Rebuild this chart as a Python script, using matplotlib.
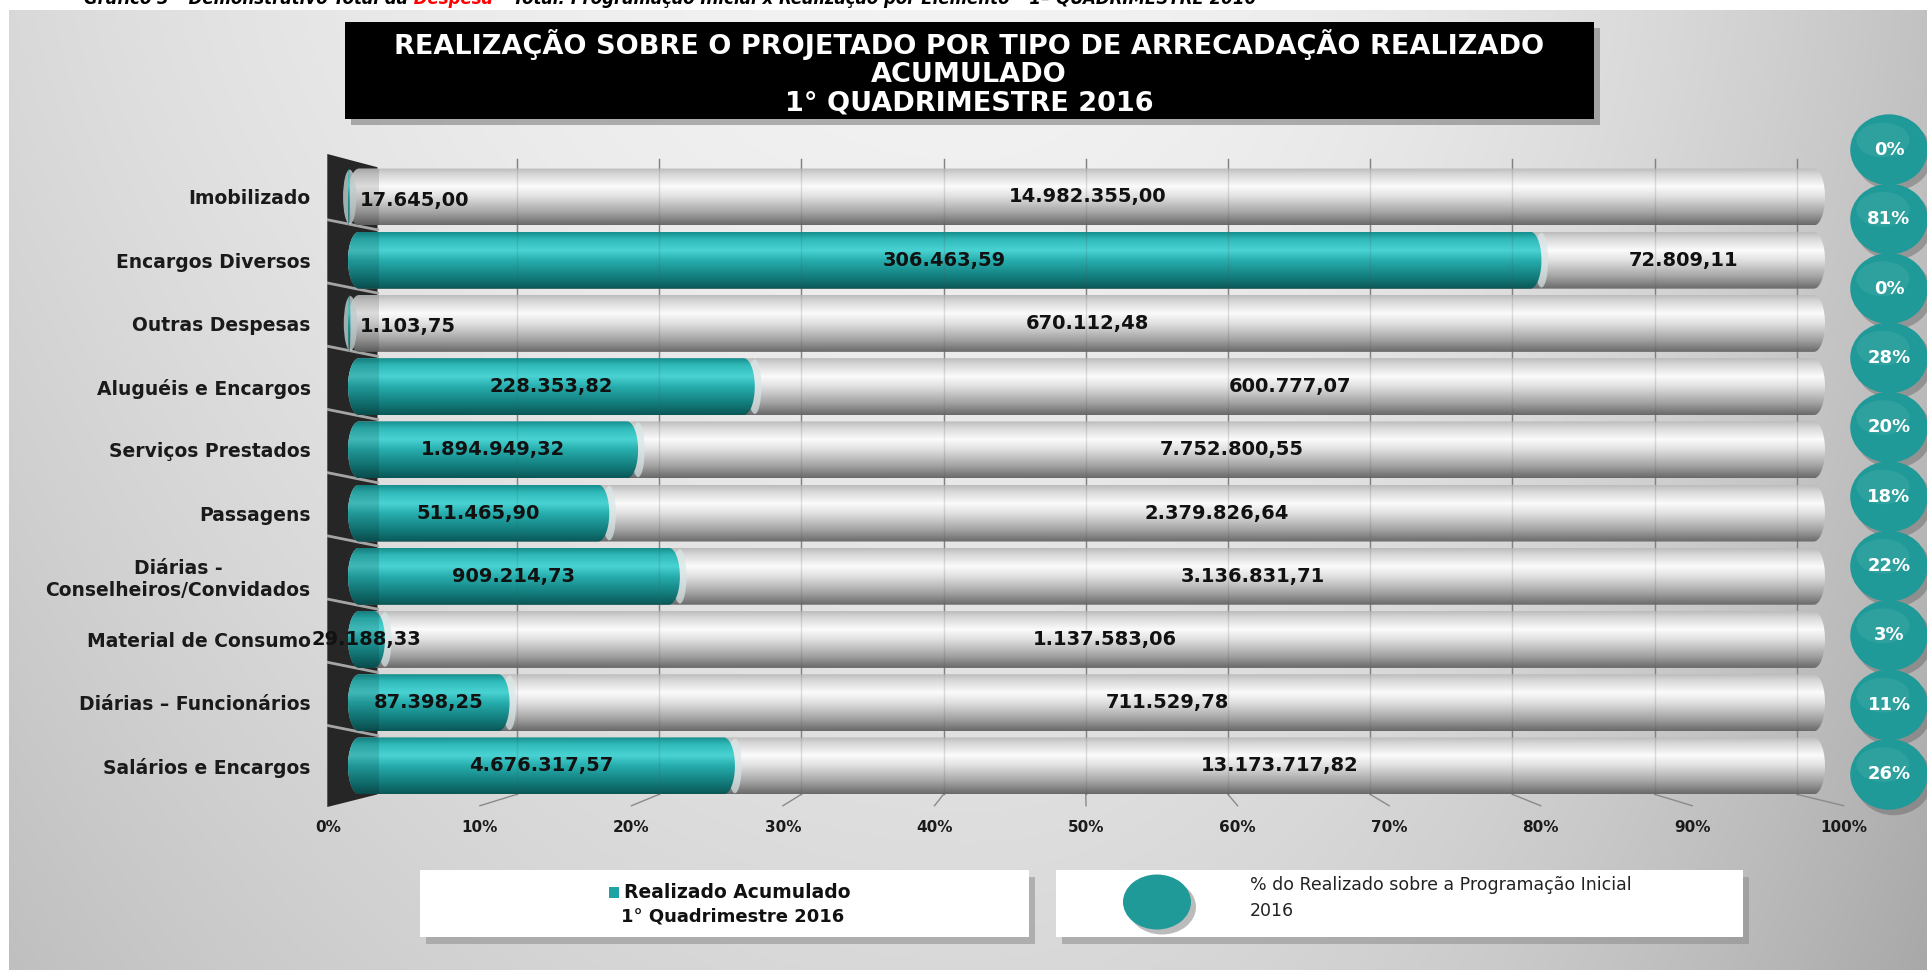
import numpy as np
import matplotlib
matplotlib.use('Agg')
import matplotlib.pyplot as plt
from matplotlib.colors import LinearSegmentedColormap
from matplotlib.patches import Rectangle, Ellipse, Polygon

plt.rcParams['font.family'] = ['DejaVu Sans']

# data
categories = ["Imobilizado", "Encargos Diversos", "Outras Despesas",
              "Aluguéis e Encargos", "Serviços Prestados", "Passagens",
              "Diárias -\nConselheiros/Convidados", "Material de Consumo",
              "Diárias – Funcionários", "Salários e Encargos"]
realizado = [17645.00, 306463.59, 1103.75, 228353.82, 1894949.32,
             511465.90, 909214.73, 29188.33, 87398.25, 4676317.57]
a_realizar = [14982355.00, 72809.11, 670112.48, 600777.07, 7752800.55,
              2379826.64, 3136831.71, 1137583.06, 711529.78, 13173717.82]
ticks = list(range(0, 101, 10))

title_lines = ["REALIZAÇÃO SOBRE O PROJETADO POR TIPO DE ARRECADAÇÃO REALIZADO",
               "ACUMULADO", "1° QUADRIMESTRE 2016"]

TEAL = '#1f9a98'
H = 0.9                      # bar thickness (rows)
PX0, PK = -1.33, 1.026       # front floor (tick labels) perspective
GX0, GK = 1.8, 0.963         # back wall gridlines perspective


def brl(v):
    return f"{v:,.2f}".replace(",", "X").replace(".", ",").replace("X", ".")


gray_cmap = LinearSegmentedColormap.from_list('g', [
    (0, '#bdbdbd'), (0.1, '#d6d6d6'), (0.32, '#fbfbfb'), (0.5, '#e0e0e0'),
    (0.78, '#a5a5a5'), (1, '#6a6a6a')])
teal_cmap = LinearSegmentedColormap.from_list('t', [
    (0, '#17908f'), (0.12, '#2fb9b8'), (0.32, '#4ad3d3'), (0.5, '#27adad'),
    (0.78, '#147f7f'), (1, '#0b5757')])
grad = np.linspace(0, 1, 100).reshape(-1, 1)


def cylinder(ax, x0, x1, yc, cmap, z):
    rx = min(0.75, (x1 - x0) / 2)
    t = np.linspace(-np.pi / 2, np.pi / 2, 25)
    right = np.column_stack([x1 - rx + rx * np.cos(t), yc + H / 2 * np.sin(t)])
    left = np.column_stack([x0 + rx - rx * np.cos(t), yc - H / 2 * np.sin(t)])
    clip = Polygon(np.vstack([right, left]), closed=True, fc='none', ec='none')
    ax.add_patch(clip)
    im = ax.imshow(grad, cmap=cmap, extent=(x0, x1, yc + H / 2, yc - H / 2),
                   aspect='auto', zorder=z, interpolation='bilinear')
    im.set_clip_path(clip)
    return clip


fig = plt.figure(figsize=(19.27, 9.73), dpi=100)

# background panel
bg = fig.add_axes([0, 0, 1, 1])
X, Y = np.meshgrid(np.linspace(0, 1, 400), np.linspace(0, 1, 200))
dx = (X - 0.5) / 0.5
L = 0.95 - np.where(dx < 0, 0.10 * dx ** 2, 0.19 * dx ** 2) - 0.10 * Y ** 1.3
bg.imshow(np.dstack([L, L, L]).clip(0, 1), extent=(9, 1927, 970, 10),
          aspect='auto', interpolation='bilinear', zorder=0)
bg.set_xlim(0, 1927)
bg.set_ylim(973, 0)
bg.axis('off')

# header line, cut by the top edge as in the source
hdr = dict(fontsize=12, fontweight='bold', style='italic')
t1 = bg.text(408, 4, "Gráfico 3 – Demonstrativo Total da", va='baseline',
             ha='right', color='black', **hdr)
t2 = bg.annotate(" Despesa", xy=(1, 0), xycoords=t1, va='bottom', ha='left',
                 color='red', **hdr)
bg.annotate(" – Total: Programação Inicial x Realização por Elemento – 1º QUADRIMESTRE 2016",
            xy=(1, 0), xycoords=t2, va='bottom', ha='left', color='black', **hdr)

# title box
bg.add_patch(Rectangle((351, 28), 1249, 97, fc='#6a6a6a', alpha=0.5, zorder=1))
bg.add_patch(Rectangle((345, 22), 1249, 97, fc='black', zorder=2))
for line, yy in zip(title_lines, [45, 75, 103]):
    bg.text(969, yy, line, ha='center', va='center', color='white',
            fontsize=19.5, fontweight='bold', zorder=3)

# main chart
ax = fig.add_axes([327.3 / 1927, (973 - 807) / 973, 1518.4 / 1927, 653 / 973])
ax.patch.set_alpha(0)
for s in ax.spines.values():
    s.set_visible(False)

# left wall and floor lines
ax.add_patch(Polygon([(-1.4, -0.68), (2.0, -0.47), (2.0, 9.45), (-1.4, 9.65)],
                     fc='#262626', ec='none', zorder=1))
for k in range(len(categories) - 1):
    ax.plot([-1.4, 2.0], [k + 0.36, k + 0.52], color='#a5a5a5', lw=2, zorder=1.2)

# back gridlines and floor lines to tick labels
for t in ticks[1:]:
    gx = GX0 + GK * t
    ax.plot([gx, gx], [-0.6, 9.45], color='#8c8c8c', lw=1, zorder=1.5)
    ax.plot([gx, gx], [-0.6, 9.45], color='#555555', lw=1, alpha=0.18, zorder=4)
    ax.plot([gx, PX0 + PK * t], [9.45, 9.63], color='#8a8a8a', lw=1, zorder=1.5)

for i, (r, p) in enumerate(zip(realizado, a_realizar)):
    pr = 100 * r / (r + p)
    full = cylinder(ax, 0, 100, i, gray_cmap, 2)
    ax.add_patch(Ellipse((pr, i), 0.9, H * 0.96, fc='#d8e6e6', alpha=0.7, zorder=2.5))
    cylinder(ax, 0, pr, i, teal_cmap, 3)
    shade = Rectangle((0, i - H / 2), 2.1, H, fc='black', alpha=0.12, zorder=3.5)
    ax.add_patch(shade)
    shade.set_clip_path(full)
    if pr < 1:
        ax.text(0.8, i + 0.05, brl(r), ha='left', va='center', fontsize=14,
                fontweight='bold', color='#111111', zorder=6)
    else:
        ax.text(pr / 2, i, brl(r), ha='center', va='center', fontsize=14,
                fontweight='bold', color='#111111', zorder=6)
    ax.text((pr + 100) / 2, i, brl(p), ha='center', va='center', fontsize=14,
            fontweight='bold', color='#111111', zorder=6)

ax.set_yticks(range(len(categories)))
ax.set_yticklabels(categories, fontsize=13.5, fontweight='bold', color='#1a1a1a')
for lab in ax.get_yticklabels():
    lab.set_multialignment('center')
ax.set_xticks([PX0 + PK * t for t in ticks])
ax.set_xticklabels([f"{t}%" for t in ticks], fontsize=11, fontweight='bold',
                   color='#1a1a1a')
ax.tick_params(axis='y', length=0, pad=12)
ax.tick_params(axis='x', length=0, pad=9)
ax.set_xlim(-1.4, 101.4)
ax.set_ylim(9.65, -0.68)

# percentage circles
cax = fig.add_axes([1851 / 1927, (973 - 809) / 973, 76 / 1927, 694 / 973])
cax.set_xlim(0, 1)
cax.set_ylim(9.5, -0.5)
cax.axis('off')
for i, (r, p) in enumerate(zip(realizado, a_realizar)):
    cax.add_patch(Ellipse((0.56, i + 0.08), 1.02, 1.02, fc='#4a4a4a', alpha=0.35,
                          clip_on=False))
    cax.add_patch(Ellipse((0.5, i), 1.02, 1.02, fc=TEAL, clip_on=False))
    cax.add_patch(Ellipse((0.42, i - 0.14), 0.7, 0.5, fc='white', alpha=0.07,
                          clip_on=False))
    cax.text(0.5, i, f"{round(100 * r / (r + p))}%", ha='center', va='center',
             color='white', fontsize=13, fontweight='bold')

# legend boxes
bg.add_patch(Rectangle((426, 877), 609, 67, fc='#8c8c8c', alpha=0.55, zorder=1))
bg.add_patch(Rectangle((420, 870), 609, 67, fc='white', zorder=2))
bg.add_patch(Rectangle((609, 887), 10, 11, fc='#1fa3a3', zorder=3))
bg.text(624, 893, "Realizado Acumulado", ha='left', va='center', fontsize=13.5,
        fontweight='bold', color='#111111', zorder=3)
bg.text(733, 916, "1° Quadrimestre 2016", ha='center', va='center', fontsize=13,
        fontweight='bold', color='#111111', zorder=3)

bg.add_patch(Rectangle((1062, 877), 687, 67, fc='#8c8c8c', alpha=0.55, zorder=1))
bg.add_patch(Rectangle((1056, 870), 687, 67, fc='white', zorder=2))
bg.add_patch(Ellipse((1162, 907), 68, 55, fc='#555555', alpha=0.4, zorder=3))
bg.add_patch(Ellipse((1157, 902), 68, 55, fc=TEAL, zorder=3))
bg.text(1250, 885, "% do Realizado sobre a Programação Inicial", ha='left',
        va='center', fontsize=12.5, color='#222222', zorder=3)
bg.text(1250, 911, "2016", ha='left', va='center', fontsize=12.5,
        color='#222222', zorder=3)

fig.savefig('out.png', dpi=100)
